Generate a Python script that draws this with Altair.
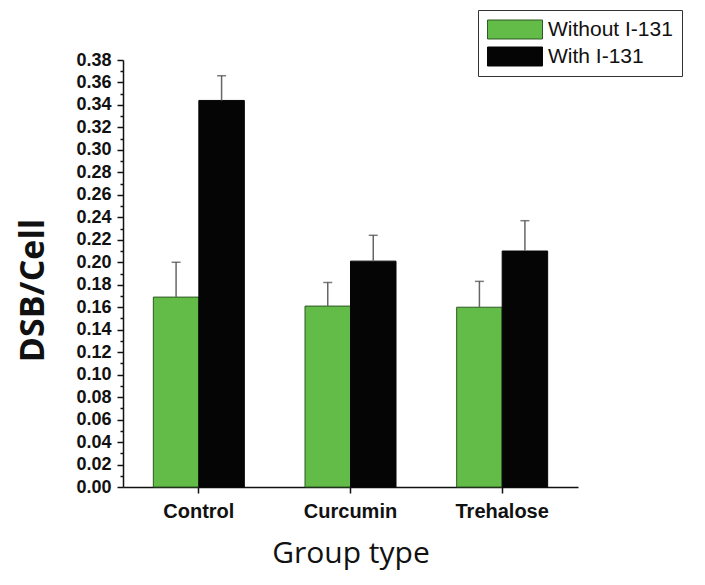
import pandas as pd
import altair as alt

# values
groups = ["Control", "Curcumin", "Trehalose"]
series = ["Without I-131", "With I-131"]
without_i131 = [0.169, 0.161, 0.160]
with_i131 = [0.344, 0.201, 0.210]
without_err = [0.031, 0.021, 0.023]
with_err = [0.022, 0.023, 0.027]
y_ticks = [round(i * 0.01, 2) for i in range(39)]

rows = []
for i, g in enumerate(groups):
    rows.append({"group": g, "series": series[0], "value": without_i131[i], "upper": without_i131[i] + without_err[i]})
    rows.append({"group": g, "series": series[1], "value": with_i131[i], "upper": with_i131[i] + with_err[i]})
df = pd.DataFrame(rows)

x_axis = alt.Axis(title="Group type", labelAngle=0, labelFont="Liberation Sans",
                  labelFontWeight="bold", labelFontSize=20, labelColor="#111",
                  labelPadding=8, tickSize=6, titleFont="Open Sans",
                  titleFontSize=30, titleFontWeight="normal", titleColor="#111",
                  titleY=66, titleBaseline="middle")
# minor ticks every 0.01, labels every 0.02
y_axis = alt.Axis(title="DSB/Cell", values=y_ticks, labelOverlap=False, labelFlush=False,
                  labelExpr="round(datum.value*100) % 2 == 0 ? format(datum.value, '.2f') : ''",
                  tickSize=alt.condition("round(datum.value*100) % 2 == 0", alt.value(6), alt.value(3)),
                  labelFont="Liberation Sans", labelFontWeight="bold", labelFontSize=18,
                  labelColor="#111", labelPadding=6,
                  titleFont="Open Sans", titleFontSize=34, titleFontWeight="bold",
                  titleColor="#111", titleAngle=-90, titleX=-90, titleY=230,
                  titleAlign="center", titleBaseline="middle")
x_scale = alt.Scale(paddingInner=0.4, paddingOuter=0.2)
off_scale = alt.Scale(paddingInner=0, paddingOuter=0)
y_scale = alt.Scale(domain=[0, 0.38], nice=False)

base = alt.Chart(df).encode(
    x=alt.X("group:N", sort=groups, scale=x_scale, axis=x_axis),
    xOffset=alt.XOffset("series:N", sort=series, scale=off_scale),
)

bars = base.mark_bar(strokeWidth=1).encode(
    y=alt.Y("value:Q", scale=y_scale, axis=y_axis),
    color=alt.Color("series:N", sort=series,
                    scale=alt.Scale(domain=series, range=["#63bb48", "#050505"]),
                    legend=alt.Legend(title=None, orient="none", legendX=355, legendY=-50,
                                      strokeColor="#333", fillColor="white", padding=9,
                                      symbolType="M-1,-0.345L1,-0.345L1,0.345L-1,0.345Z",
                                      symbolSize=3025, symbolStrokeWidth=1, symbolStrokeColor="#333",
                                      clipHeight=21, rowPadding=5, labelOffset=5,
                                      labelFont="Liberation Sans", labelFontSize=21,
                                      labelColor="#111")),
    stroke=alt.Stroke("series:N", sort=series,
                      scale=alt.Scale(domain=series, range=["#2f5a25", "#050505"]), legend=None),
)

err_line = base.mark_rule(color="#666", strokeWidth=1.5).encode(
    y=alt.Y("value:Q", scale=y_scale, axis=y_axis),
    y2="upper:Q",
)

err_cap = base.mark_tick(color="#444", thickness=1.5, size=9).encode(
    y=alt.Y("upper:Q", scale=y_scale, axis=y_axis),
)

chart = alt.layer(bars, err_line, err_cap).properties(
    width=455, height=427,
    padding={"left": 115, "top": 52, "right": 119, "bottom": 90},
    autosize=alt.AutoSizeParams(type="none"),
    background="white",
).configure_view(stroke=None).configure_axis(
    domainColor="#111", domainWidth=1.5, tickColor="#111", tickWidth=1.5, grid=False
)

chart.save("out.html", embed_options={"renderer": "svg", "actions": False})
